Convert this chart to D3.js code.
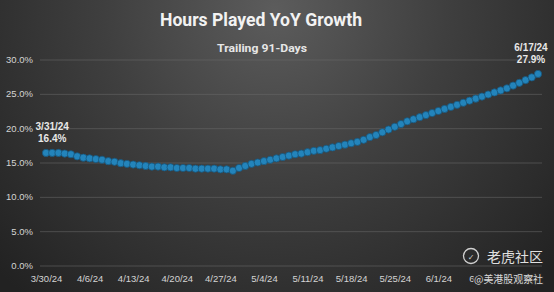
<!DOCTYPE html>
<html>
<head>
<meta charset="utf-8">
<script src="https://cdn.jsdelivr.net/npm/d3@7"></script>
<style>
  html, body { margin: 0; padding: 0; background: #2b2b2b; }
  svg { display: block; }
</style>
</head>
<body>
<script>
//Width and height
let w = 554;
let h = 292;

//Data: trailing 91-day YoY growth of hours played, one value per day from 3/30/24
let startDate = "2024-03-30";
let growth = [
  16.4, 16.4, 16.4, 16.3, 16.2, 15.9, 15.7, 15.6, 15.5, 15.4,
  15.2, 15.1, 14.9, 14.8, 14.7, 14.6, 14.5, 14.4, 14.4, 14.3,
  14.3, 14.2, 14.2, 14.2, 14.1, 14.1, 14.1, 14.1, 14.0, 14.0,
  13.8, 14.2, 14.5, 14.8, 15.0, 15.2, 15.4, 15.6, 15.8, 16.0,
  16.2, 16.3, 16.5, 16.7, 16.8, 17.0, 17.2, 17.4, 17.6, 17.8,
  18.0, 18.3, 18.7, 19.0, 19.4, 19.8, 20.2, 20.6, 21.0, 21.3,
  21.6, 21.9, 22.2, 22.5, 22.8, 23.1, 23.4, 23.7, 24.0, 24.3,
  24.6, 24.9, 25.2, 25.5, 25.8, 26.2, 26.6, 27.0, 27.4, 27.9
];

//Tick labels
let xTickLabels = ["3/30/24", "4/6/24", "4/13/24", "4/20/24", "4/27/24", "5/4/24",
                   "5/11/24", "5/18/24", "5/25/24", "6/1/24", "6/8/24"];
let yTicks = [0, 5, 10, 15, 20, 25, 30];

//Callouts on first and last point
let callouts = [
  { date: "3/31/24", value: 16.4 },
  { date: "6/17/24", value: 27.9 }
];

let parseIso = d3.timeParse("%Y-%m-%d");
let parseShort = d3.timeParse("%m/%d/%y");
let fmtShort = d3.timeFormat("%-m/%-d/%y");

let days = d3.timeDay.range(parseIso(startDate), d3.timeDay.offset(parseIso(startDate), growth.length));
let points = growth.map(function(v, i) { return { date: days[i], value: v }; });

//Scales
let x = d3.scaleTime()
          .domain([days[0], days[days.length - 1]])
          .range([46, 538]);
let y = d3.scaleLinear()
          .domain([0, 30])
          .range([265.5, 59.5]);

//Create SVG element
let svg = d3.select("body")
            .append("svg")
            .attr("width", w)
            .attr("height", h);

//background gradient
let defs = svg.append("defs");
let bg = defs.append("radialGradient")
             .attr("id", "bg")
             .attr("gradientUnits", "userSpaceOnUse")
             .attr("cx", 275).attr("cy", 10)
             .attr("r", 380);
bg.append("stop").attr("offset", "0%").attr("stop-color", "#5c5c5c");
bg.append("stop").attr("offset", "45%").attr("stop-color", "#3f3f3f");
bg.append("stop").attr("offset", "100%").attr("stop-color", "#222222");

svg.append("rect")
   .attr("width", w)
   .attr("height", h)
   .attr("fill", "url(#bg)");

//Title
svg.append("text")
   .attr("x", 261).attr("y", 26)
   .attr("text-anchor", "middle")
   .attr("textLength", 202)
   .attr("lengthAdjust", "spacingAndGlyphs")
   .style("font", "bold 18px Roboto, sans-serif")
   .style("fill", "#f2f2f2")
   .text("Hours Played YoY Growth");

svg.append("text")
   .attr("x", 262).attr("y", 51.5)
   .attr("text-anchor", "middle")
   .attr("textLength", 90)
   .attr("lengthAdjust", "spacingAndGlyphs")
   .style("font", "bold 11.5px Roboto, sans-serif")
   .style("fill", "#e6e6e6")
   .text("Trailing 91-Days");

//Gridlines
svg.append("g")
   .attr("class", "grid")
   .attr("transform", "translate(40,0)")
   .call(d3.axisLeft(y).tickValues(yTicks).tickSize(-502).tickFormat(""))
   .call(function(g) { g.select(".domain").remove(); })
   .selectAll("line")
   .attr("stroke", "#6a6a6a")
   .attr("stroke-opacity", 0.55);

//Y axis labels
svg.append("g")
   .attr("transform", "translate(40,0)")
   .call(d3.axisLeft(y).tickValues(yTicks).tickSize(0).tickPadding(7)
           .tickFormat(function(d) { return d3.format(".1f")(d) + "%"; }))
   .call(function(g) { g.select(".domain").remove(); })
   .selectAll("text")
   .style("font", "9.5px 'Liberation Sans', Arial, sans-serif")
   .style("fill", "#d4d4d4");

//X axis labels
svg.append("g")
   .attr("transform", "translate(0,265.5)")
   .call(d3.axisBottom(x)
           .tickValues(xTickLabels.map(function(s) { return parseShort(s); }))
           .tickSize(0).tickPadding(9.5)
           .tickFormat(fmtShort))
   .call(function(g) { g.select(".domain").remove(); })
   .selectAll("text")
   .style("font", "9.5px 'Liberation Sans', Arial, sans-serif")
   .style("fill", "#d4d4d4");

//Line
let line = d3.line()
             .x(function(d) { return x(d.date); })
             .y(function(d) { return y(d.value); });

svg.append("path")
   .datum(points)
   .attr("d", line)
   .attr("fill", "none")
   .attr("stroke", "#185f88")
   .attr("stroke-width", 3);

//Markers
svg.selectAll("circle.pt")
   .data(points)
   .enter()
   .append("circle")
   .attr("class", "pt")
   .attr("cx", function(d) { return x(d.date); })
   .attr("cy", function(d) { return y(d.value); })
   .attr("r", 3.6)
   .attr("fill", "#2384bb")
   .attr("stroke", "#17577e")
   .attr("stroke-width", 0.8);

//Callouts
let co = svg.selectAll("g.callout")
            .data(callouts)
            .enter()
            .append("g")
            .attr("class", "callout")
            .attr("transform", function(d, i) {
                let cx = i === 0 ? x(parseShort(d.date)) : x(parseShort(d.date)) - 7;
                return "translate(" + cx + "," + (y(d.value) - 23) + ")";
            });

co.append("text")
  .attr("text-anchor", "middle")
  .style("font", "bold 10px 'Liberation Sans', Arial, sans-serif")
  .style("fill", "#e8e8e8")
  .text(function(d) { return d.date; });

co.append("text")
  .attr("y", 12.5)
  .attr("text-anchor", "middle")
  .style("font", "bold 10px 'Liberation Sans', Arial, sans-serif")
  .style("fill", "#e8e8e8")
  .text(function(d) { return d3.format(".1f")(d.value) + "%"; });

//Watermark
let wm = svg.append("g").attr("class", "watermark");
wm.append("circle")
  .attr("cx", 471).attr("cy", 256).attr("r", 7.5)
  .attr("fill", "none")
  .attr("stroke", "#d0d0d0")
  .attr("stroke-width", 1.3);
wm.append("text")
  .attr("x", 471).attr("y", 259.5)
  .attr("text-anchor", "middle")
  .style("font", "bold 8px 'DejaVu Sans', sans-serif")
  .style("fill", "#d0d0d0")
  .text("✓");
wm.append("text")
  .attr("x", 487).attr("y", 262)
  .style("font", "14px 'Noto Sans CJK SC', sans-serif")
  .style("fill", "#e0e0e0")
  .text("老虎社区");
wm.append("text")
  .attr("x", 474).attr("y", 283)
  .attr("textLength", 69)
  .attr("lengthAdjust", "spacingAndGlyphs")
  .style("font", "10.5px 'Noto Sans CJK SC', sans-serif")
  .style("fill", "#d8d8d8")
  .style("stroke", "#2a2a2a")
  .style("stroke-width", 2.5)
  .style("paint-order", "stroke")
  .text("@美港股观察社");
</script>
</body>
</html>
